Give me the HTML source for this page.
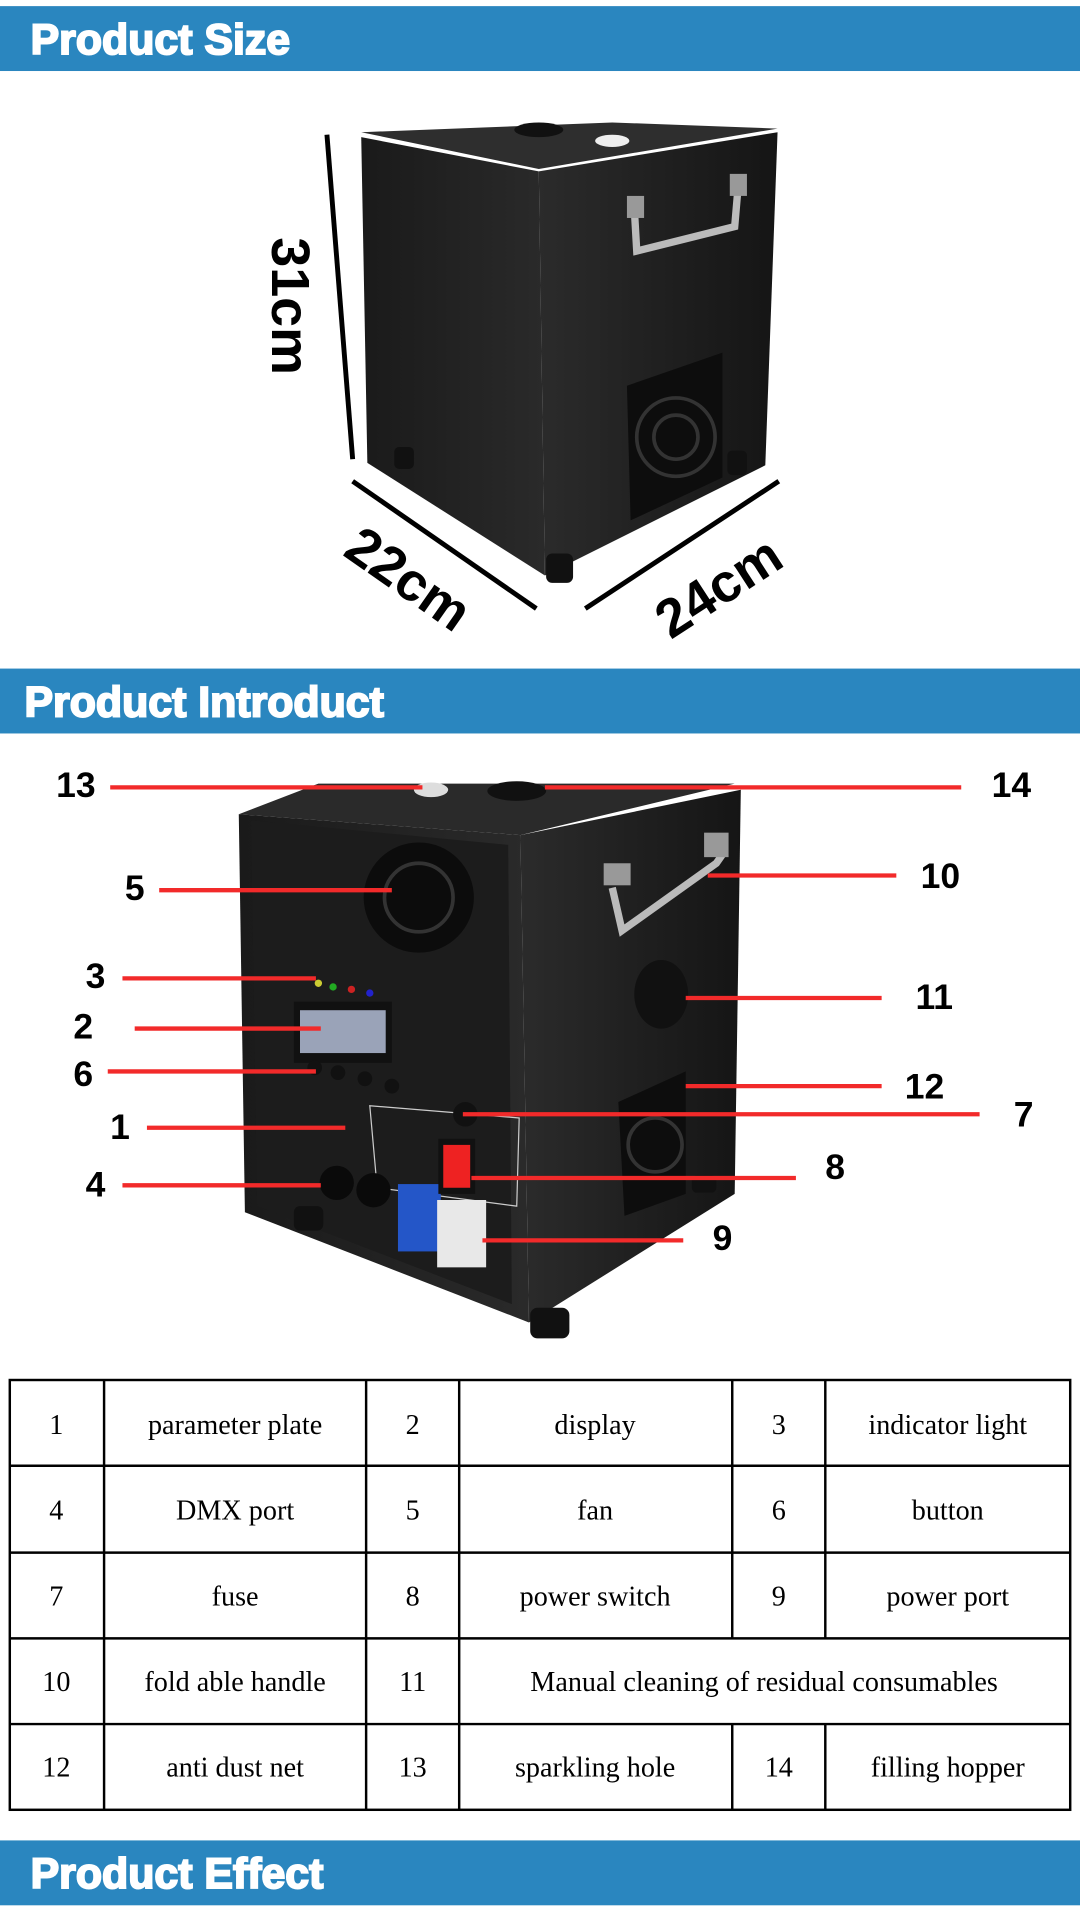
<!DOCTYPE html>
<html><head><meta charset="utf-8"><style>html,body{margin:0;padding:0;background:#fff}svg{display:block}</style></head>
<body>
<svg width="1080" height="1920" viewBox="0 0 882 1568" xmlns="http://www.w3.org/2000/svg">
<defs>
<linearGradient id="gl" x1="0" x2="1"><stop offset="0" stop-color="#1a1a1a"/><stop offset="1" stop-color="#2a2a2a"/></linearGradient>
<linearGradient id="gr" x1="0" x2="1"><stop offset="0" stop-color="#2b2b2b"/><stop offset="1" stop-color="#151515"/></linearGradient>
</defs>
<rect width="882" height="1568" fill="#fff"/>
<!-- headers -->
<g font-family="Liberation Sans,sans-serif" font-weight="bold" font-size="35" fill="#fff" stroke="#fff" stroke-width="1.6">
<rect x="0" y="5" width="882" height="53" fill="#2a86bf" stroke="none"/>
<text x="25" y="44">Product Size</text>
<rect x="0" y="546" width="882" height="53" fill="#2a86bf" stroke="none"/>
<text x="20" y="585">Product Introduct</text>
<rect x="0" y="1503" width="882" height="53" fill="#2a86bf" stroke="none"/>
<text x="25" y="1542">Product Effect</text>
</g>

<!-- product 1 -->
<polygon points="295,108 500,100 635,105 440,138" fill="#2e2e2e"/>
<polygon points="295,112 440,140 445,470 300,378" fill="url(#gl)"/>
<polygon points="440,140 635,108 625,380 445,470" fill="url(#gr)"/>
<ellipse cx="440" cy="106" rx="20" ry="6" fill="#111"/>
<ellipse cx="500" cy="115" rx="14" ry="5" fill="#eee"/>
<path d="M518,170 L520,205 L600,185 L603,150" fill="none" stroke="#bbb" stroke-width="6"/>
<rect x="512" y="160" width="14" height="18" fill="#999"/><rect x="596" y="142" width="14" height="18" fill="#999"/>
<polygon points="512,315 590,288 590,390 515,425" fill="#0d0d0d"/>
<circle cx="552" cy="357" r="32" fill="none" stroke="#333" stroke-width="3"/>
<circle cx="552" cy="357" r="18" fill="none" stroke="#333" stroke-width="3"/>
<rect x="322" y="365" width="16" height="18" rx="4" fill="#111"/><rect x="594" y="368" width="16" height="20" rx="4" fill="#111"/>
<rect x="446" y="452" width="22" height="24" rx="5" fill="#111"/>
<line x1="267" y1="110" x2="288" y2="375" stroke="#000" stroke-width="4"/>
<text transform="translate(222,250) rotate(90)" text-anchor="middle" font-family="Liberation Sans,sans-serif" font-weight="bold" font-size="44" fill="#000">31cm</text>
<line x1="288" y1="393" x2="438" y2="497" stroke="#000" stroke-width="4"/>
<text transform="translate(325,485) rotate(35)" text-anchor="middle" font-family="Liberation Sans,sans-serif" font-weight="bold" font-size="44" fill="#000">22cm</text>
<line x1="478" y1="497" x2="636" y2="393" stroke="#000" stroke-width="4"/>
<text transform="translate(595,492) rotate(-33)" text-anchor="middle" font-family="Liberation Sans,sans-serif" font-weight="bold" font-size="44" fill="#000">24cm</text>

<!-- product 2 -->
<polygon points="195,665 260,640 600,640 425,682" fill="#2a2a2a"/>
<polygon points="195,665 425,682 432,1080 200,990" fill="url(#gl)"/>
<polygon points="425,682 605,645 600,975 432,1080" fill="url(#gr)"/>
<polygon points="205,670 415,690 418,1065 210,985" fill="#1c1c1c"/>
<ellipse cx="352" cy="645" rx="14" ry="6" fill="#ddd"/>
<ellipse cx="422" cy="646" rx="24" ry="8" fill="#111"/>
<circle cx="342" cy="733" r="45" fill="#0c0c0c"/><circle cx="342" cy="733" r="28" fill="none" stroke="#333" stroke-width="3"/>
<rect x="240" y="818" width="80" height="50" fill="#111"/><rect x="245" y="825" width="70" height="35" fill="#9aa3b8"/>
<circle cx="260" cy="803" r="3" fill="#cc3"/><circle cx="272" cy="806" r="3" fill="#2a2"/><circle cx="287" cy="808" r="3" fill="#c22"/><circle cx="302" cy="811" r="3" fill="#22c"/>
<circle cx="257" cy="872" r="6" fill="#111"/><circle cx="276" cy="876" r="6" fill="#111"/><circle cx="298" cy="881" r="6" fill="#111"/><circle cx="320" cy="887" r="6" fill="#111"/>
<polygon points="302,903 424,913 422,985 308,970" fill="none" stroke="#ccc" stroke-width="1"/>
<circle cx="275" cy="966" r="14" fill="#0a0a0a"/><circle cx="305" cy="972" r="14" fill="#0a0a0a"/>
<rect x="325" y="967" width="35" height="55" fill="#2456c8"/><rect x="357" y="980" width="40" height="55" fill="#e8e8e8"/>
<rect x="358" y="930" width="30" height="45" fill="#111"/><rect x="362" y="935" width="22" height="35" fill="#e22"/>
<circle cx="380" cy="910" r="10" fill="#111"/>
<path d="M500,725 L508,760 L585,705 L592,695" fill="none" stroke="#bbb" stroke-width="6"/>
<rect x="493" y="705" width="22" height="18" fill="#999"/><rect x="575" y="680" width="20" height="20" fill="#999"/>
<ellipse cx="540" cy="812" rx="22" ry="28" fill="#111"/>
<polygon points="505,900 560,875 560,975 510,993" fill="#0d0d0d"/>
<circle cx="535" cy="935" r="22" fill="none" stroke="#333" stroke-width="3"/>
<rect x="240" y="985" width="24" height="20" rx="5" fill="#111"/><rect x="433" y="1068" width="32" height="25" rx="6" fill="#111"/><rect x="565" y="960" width="20" height="14" rx="4" fill="#111"/>

<g stroke="#f22a2a" stroke-width="3.5">
<line x1="90" y1="643" x2="345" y2="643"/><line x1="445" y1="643" x2="785" y2="643"/>
<line x1="130" y1="727" x2="320" y2="727"/><line x1="578" y1="715" x2="732" y2="715"/>
<line x1="100" y1="799" x2="258" y2="799"/><line x1="560" y1="815" x2="720" y2="815"/>
<line x1="110" y1="840" x2="262" y2="840"/><line x1="88" y1="875" x2="258" y2="875"/>
<line x1="560" y1="887" x2="720" y2="887"/><line x1="120" y1="921" x2="282" y2="921"/>
<line x1="378" y1="910" x2="800" y2="910"/><line x1="385" y1="962" x2="650" y2="962"/>
<line x1="100" y1="968" x2="262" y2="968"/><line x1="394" y1="1013" x2="558" y2="1013"/>
</g>
<g font-family="Liberation Sans,sans-serif" font-weight="bold" font-size="29" fill="#000" text-anchor="middle">
<text x="62" y="651">13</text><text x="826" y="651">14</text>
<text x="110" y="735">5</text><text x="768" y="725">10</text>
<text x="78" y="807">3</text><text x="763" y="824">11</text>
<text x="68" y="848">2</text><text x="68" y="887">6</text>
<text x="755" y="897">12</text><text x="98" y="930">1</text>
<text x="836" y="920">7</text><text x="682" y="963">8</text>
<text x="78" y="977">4</text><text x="590" y="1021">9</text>
</g>

<!-- table -->
<g stroke="#000" stroke-width="2" fill="none">
<rect x="8" y="1127" width="866" height="351"/>
<line x1="8" y1="1197" x2="874" y2="1197"/><line x1="8" y1="1268" x2="874" y2="1268"/>
<line x1="8" y1="1338" x2="874" y2="1338"/><line x1="8" y1="1408" x2="874" y2="1408"/>
<line x1="85" y1="1127" x2="85" y2="1478"/><line x1="299" y1="1127" x2="299" y2="1478"/>
<line x1="375" y1="1127" x2="375" y2="1478"/>
<line x1="598" y1="1127" x2="598" y2="1338"/><line x1="674" y1="1127" x2="674" y2="1338"/>
<line x1="598" y1="1408" x2="598" y2="1478"/><line x1="674" y1="1408" x2="674" y2="1478"/>
</g>
<g font-family="Liberation Serif,serif" font-size="23" fill="#000" text-anchor="middle">
<text x="46" y="1171">1</text><text x="192" y="1171">parameter plate</text><text x="337" y="1171">2</text><text x="486" y="1171">display</text><text x="636" y="1171">3</text><text x="774" y="1171">indicator light</text>
<text x="46" y="1241">4</text><text x="192" y="1241">DMX port</text><text x="337" y="1241">5</text><text x="486" y="1241">fan</text><text x="636" y="1241">6</text><text x="774" y="1241">button</text>
<text x="46" y="1311">7</text><text x="192" y="1311">fuse</text><text x="337" y="1311">8</text><text x="486" y="1311">power switch</text><text x="636" y="1311">9</text><text x="774" y="1311">power port</text>
<text x="46" y="1381">10</text><text x="192" y="1381">fold able handle</text><text x="337" y="1381">11</text><text x="624" y="1381">Manual cleaning of residual consumables</text>
<text x="46" y="1451">12</text><text x="192" y="1451">anti dust net</text><text x="337" y="1451">13</text><text x="486" y="1451">sparkling hole</text><text x="636" y="1451">14</text><text x="774" y="1451">filling hopper</text>
</g>
</svg>
</body></html>
